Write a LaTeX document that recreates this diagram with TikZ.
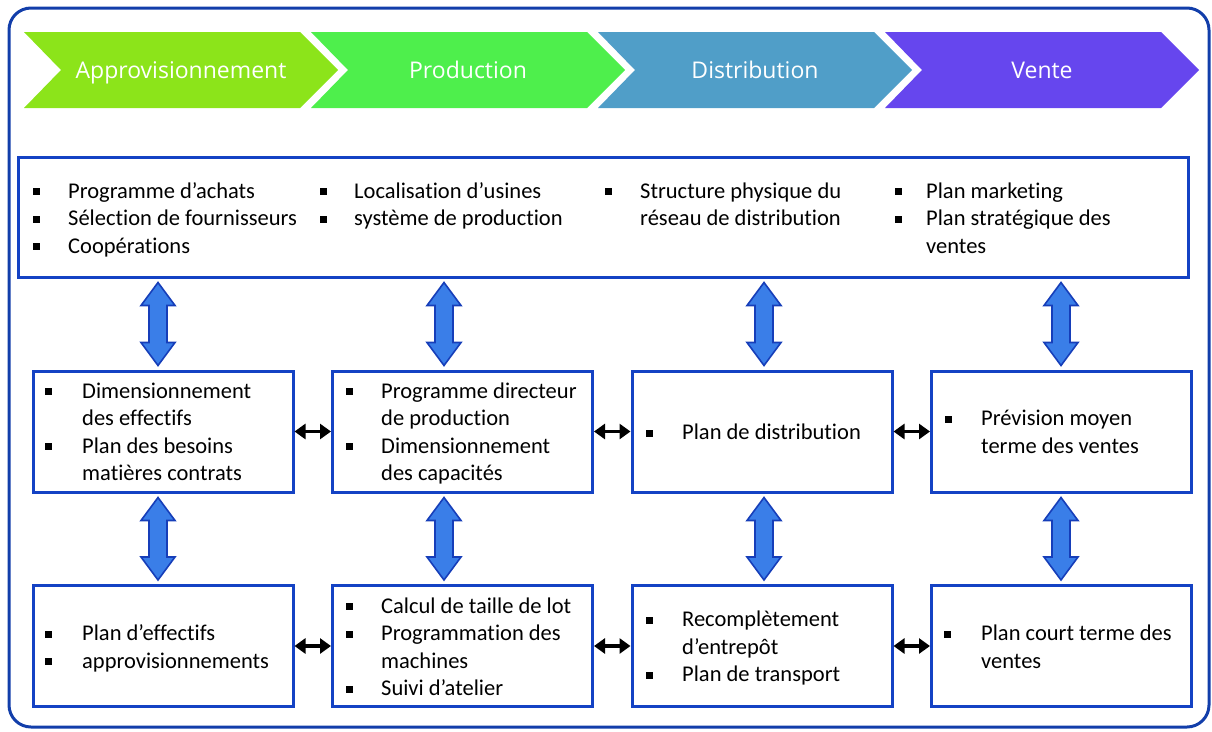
\documentclass[tikz,border=0pt]{standalone}
\usepackage{fontspec}
\setmainfont{Carlito}[Ligatures=NoCommon]
\newfontfamily\headfont{Open Sans}
\usetikzlibrary{calc,arrows.meta}
\definecolor{outerblue}{RGB}{18,62,170}
\definecolor{boxblue}{RGB}{20,66,196}
\definecolor{arrfill}{RGB}{58,126,232}
\definecolor{arrline}{RGB}{22,62,185}
\definecolor{cA}{RGB}{140,228,26}
\definecolor{cP}{RGB}{78,239,76}
\definecolor{cD}{RGB}{80,158,200}
\definecolor{cV}{RGB}{102,70,238}
\tikzset{
  headtxt/.style={font=\headfont\fontsize{23}{28}\selectfont, text=white, inner sep=0, anchor=base},
  box/.style={draw=boxblue, line width=3pt, fill=white, minimum width=260pt, minimum height=121pt, inner sep=0},
  txt/.style={font=\fontsize{22.5}{27}\selectfont, anchor=base west, inner sep=0},
  bul/.style={fill=black, minimum size=7pt, inner sep=0, draw=none},
  bigarr/.style={fill=arrfill, draw=arrline, line width=1.6pt, line join=miter},
  smallarr/.style={line width=3.5pt, {Triangle[length=11pt,width=15pt]}-{Triangle[length=11pt,width=15pt]}},
  outer/.style={draw=outerblue, line width=3pt, rounded corners=22pt}
}
\newcommand{\chevron}[3]{%
  \fill[#2] (#1,32) -- (#1+276,32) -- (#1+314,70) -- (#1+276,108) -- (#1,108) -- (#1+37,70) -- cycle;
  \node[headtxt] (h#3) at (#1+157,78.5) {#3};}
\newcommand{\vdarrow}[2]{%
  \draw[bigarr] let \p1=(#1), \p2=(#2) in
   (\x1,\y1) -- (\x1+17pt,\y1-23pt) -- (\x1+9pt,\y1-23pt) -- (\x1+9pt,\y2+23pt) -- (\x1+17pt,\y2+23pt)
   -- (\x1,\y2) -- (\x1-17pt,\y2+23pt) -- (\x1-9pt,\y2+23pt) -- (\x1-9pt,\y1-23pt) -- (\x1-17pt,\y1-23pt) -- cycle;}
\newcommand{\li}[4]{\node[txt] (#1) at (#2,#3+2) {#4};}
\newcommand{\bu}[3]{\node[bul] (#1) at (#2,#3-4.5) {};}
\begin{document}
\begin{tikzpicture}[x=1pt,y=-1pt]
\useasboundingbox (0,0) rectangle (1212,731);
\draw[outer] (9,8) rectangle (1209,727);
% chevrons
\chevron{24}{cA}{Approvisionnement}
\chevron{311}{cP}{Production}
\chevron{598}{cD}{Distribution}
\chevron{885}{cV}{Vente}
% top box
\node[box, minimum width=1170pt, minimum height=120pt] (top) at (603,217) {};
\bu{b1}{36}{196}\li{l1}{68}{196}{Programme d’achats}
\bu{b2}{36}{223.5}\li{l2}{68}{223.5}{Sélection de fournisseurs}
\bu{b3}{36}{251}\li{l3}{68}{251}{Coopérations}
\bu{b4}{323}{196}\li{l4}{354}{196}{Localisation d’usines}
\bu{b5}{323}{223.5}\li{l5}{354}{223.5}{système de production}
\begin{scope}
\clip (600,160) rectangle (844,275);
\bu{b6}{608}{196}\li{l6}{640}{196}{Structure physique du}
\li{l7}{640}{223.5}{réseau de distribution}
\end{scope}
\bu{b8}{898}{196}\li{l8}{926}{196}{Plan marketing}
\bu{b9}{898}{223.5}\li{l9}{926}{223.5}{Plan stratégique des}
\li{l10}{926}{251}{ventes}
% middle row
\node[box] (m1) at (163,431.5) {};
\node[box] (m2) at (462.5,431.5) {};
\node[box] (m3) at (762,431.5) {};
\node[box] (m4) at (1061.5,431.5) {};
% bottom row
\node[box] (d1) at (163,646) {};
\node[box] (d2) at (462.5,646) {};
\node[box] (d3) at (762,646) {};
\node[box] (d4) at (1061.5,646) {};
% middle texts
\bu{mb1}{48}{396}\li{ml1}{82}{396}{Dimensionnement}
\li{ml2}{82}{423.5}{des effectifs}
\bu{mb3}{48}{451}\li{ml3}{82}{451}{Plan des besoins}
\li{ml4}{82}{478.5}{matières contrats}
\bu{mb5}{349}{396}\li{ml5}{381}{396}{Programme directeur}
\li{ml6}{381}{423.5}{de production}
\bu{mb7}{349}{451}\li{ml7}{381}{451}{Dimensionnement}
\li{ml8}{381}{478.5}{des capacités}
\bu{mb9}{649}{437.5}\li{ml9}{682}{437.5}{Plan de distribution}
\bu{mb10}{948}{423.5}\li{ml10}{981}{423.5}{Prévision moyen}
\li{ml11}{981}{451}{terme des ventes}
% bottom texts
\bu{db1}{48}{638.5}\li{dl1}{82}{638.5}{Plan d’effectifs}
\bu{db2}{48}{666}\li{dl2}{82}{666}{approvisionnements}
\bu{db3}{349}{611}\li{dl3}{381}{611}{Calcul de taille de lot}
\bu{db4}{349}{638.5}\li{dl4}{381}{638.5}{Programmation des}
\li{dl5}{381}{666}{machines}
\bu{db6}{349}{693.5}\li{dl6}{381}{693.5}{Suivi d’atelier}
\bu{db7}{649}{624.5}\li{dl7}{682}{624.5}{Recomplètement}
\li{dl8}{682}{652}{d’entrepôt}
\bu{db9}{649}{679.5}\li{dl9}{682}{679.5}{Plan de transport}
\bu{db10}{947}{638.5}\li{dl10}{981}{638.5}{Plan court terme des}
\li{dl11}{981}{666}{ventes}
% arrow x positions
\coordinate (ax1) at (158,0);
\coordinate (ax2) at (444,0);
\coordinate (ax3) at (764,0);
\coordinate (ax4) at (1061,0);
\foreach \i in {1,2,3,4}{
  \vdarrow{$(ax\i |- top.south)+(0,4)$}{$(ax\i |- m\i.north)+(0,-4)$}
  \vdarrow{$(ax\i |- m\i.south)+(0,4)$}{$(ax\i |- d\i.north)+(0,-4)$}
}
% small black arrows
\draw[smallarr] (m1.east) -- (m2.west);
\draw[smallarr] (m2.east) -- (m3.west);
\draw[smallarr] (m3.east) -- (m4.west);
\draw[smallarr] (d1.east) -- (d2.west);
\draw[smallarr] (d2.east) -- (d3.west);
\draw[smallarr] (d3.east) -- (d4.west);
\end{tikzpicture}
\end{document}
